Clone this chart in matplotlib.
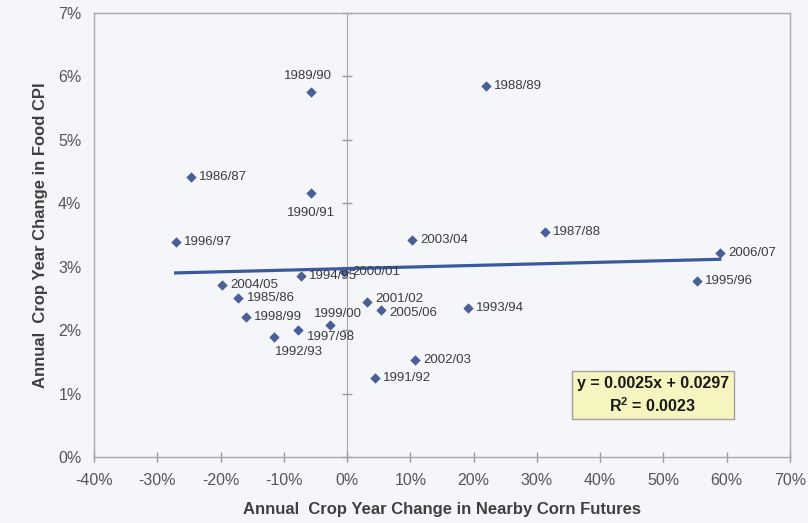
import numpy as np
import matplotlib
matplotlib.use('Agg')
import matplotlib.pyplot as plt
from matplotlib.ticker import PercentFormatter

# crop years and their values (fractions)
seasons = ['1989/90', '1986/87', '1990/91', '1996/97', '1988/89', '2003/04', '1987/88',
           '2006/07', '2004/05', '1985/86', '1998/99', '1994/95', '1997/98', '1992/93',
           '1999/00', '2000/01', '2001/02', '2005/06', '1991/92', '1995/96', '1993/94',
           '2002/03']
corn_change = [-0.057, -0.247, -0.057, -0.271, 0.219, 0.103, 0.312,
               0.589, -0.197, -0.172, -0.160, -0.073, -0.077, -0.115,
               -0.027, -0.005, 0.031, 0.054, 0.044, 0.553, 0.191,
               0.107]
cpi_change = [0.0576, 0.0442, 0.0416, 0.0339, 0.0585, 0.0342, 0.0355,
              0.0321, 0.0271, 0.0250, 0.0221, 0.0286, 0.0200, 0.0189,
              0.0208, 0.0292, 0.0245, 0.0231, 0.0124, 0.0278, 0.0235,
              0.0153]
slope = 0.0025
intercept = 0.0297
r_squared = 0.0023

# label placement (offset in points, horizontal alignment)
label_pos = {
    '1989/90': ((-2, 11), 'center'),
    '1990/91': ((0, -14), 'center'),
    '1999/00': ((6, 8), 'center'),
    '1997/98': ((6, -5), 'left'),
    '1992/93': ((18, -11), 'center'),
    '2001/02': ((6, 2), 'left'),
    '2005/06': ((6, -2), 'left'),
}

plt.rcParams['axes.unicode_minus'] = False
plt.rcParams['font.family'] = ['Liberation Sans', 'DejaVu Sans']

bg = '#f4f6f9'
fig = plt.figure(figsize=(8.08, 5.23), dpi=100, facecolor=bg)
ax = fig.add_axes([94 / 808, 1 - 457 / 523, 696 / 808, 444 / 523], facecolor=bg)

# trend line over data range
xs = np.array([min(corn_change), max(corn_change)])
ax.plot(xs, slope * xs + intercept, color='#3b5a9e', lw=2.3, zorder=2)

ax.scatter(corn_change, cpi_change, marker='D', s=28, color='#4a5e98', zorder=3,
           linewidths=0)

for name, x, y in zip(seasons, corn_change, cpi_change):
    off, ha = label_pos.get(name, ((6, 0), 'left'))
    ax.annotate(name, (x, y), xytext=off, textcoords='offset points', ha=ha,
                va='center', fontsize=9.5, color='#3c3c3c', zorder=4)

xticks = np.arange(-40, 71, 10) / 100
yticks = np.arange(0, 8) / 100
ax.set_xlim(-0.4, 0.7)
ax.set_ylim(0, 0.07)
ax.set_xticks(xticks)
ax.set_yticks(yticks)
ax.xaxis.set_major_formatter(PercentFormatter(1.0, decimals=0))
ax.yaxis.set_major_formatter(PercentFormatter(1.0, decimals=0))
ax.tick_params(axis='x', direction='inout', length=7, width=1, color='#999999',
               labelsize=11.5, labelcolor='#555555', pad=8)
ax.tick_params(axis='y', length=0, labelsize=11.5, labelcolor='#555555', pad=9)
for s in ax.spines.values():
    s.set_color('#a8a8a8')
    s.set_linewidth(1)

# value axis crossing at x = 0
sec = ax.secondary_yaxis(0.4 / 1.1)
sec.set_yticks(yticks)
sec.tick_params(axis='y', direction='inout', length=7, width=1, color='#999999',
                labelleft=False, labelright=False)
sec.spines['left'].set_color('#a8a8a8')
sec.spines['right'].set_visible(False)

ax.set_xlabel('Annual  Crop Year Change in Nearby Corn Futures', fontsize=12,
              fontweight='bold', color='#404040')
ax.set_ylabel('Annual  Crop Year Change in Food CPI', fontsize=12,
              fontweight='bold', color='#404040')
ax.xaxis.set_label_coords(0.5, -0.102)
ax.yaxis.set_label_coords(-0.066, 0.5)

eq = 'y = %.4fx + %.4f\n$\\mathregular{R^2}$ = %.4f' % (slope, intercept, r_squared)
ax.text(0.483, 0.0097, eq, ha='center', va='center', fontsize=11.5,
        fontweight='bold', color='#1a1a1a', linespacing=1.3,
        bbox=dict(boxstyle='square,pad=0.3', facecolor='#f6f4bf',
                  edgecolor='#a0a0a0', lw=1), zorder=5)

fig.savefig('out.png', dpi=100, facecolor=bg)
